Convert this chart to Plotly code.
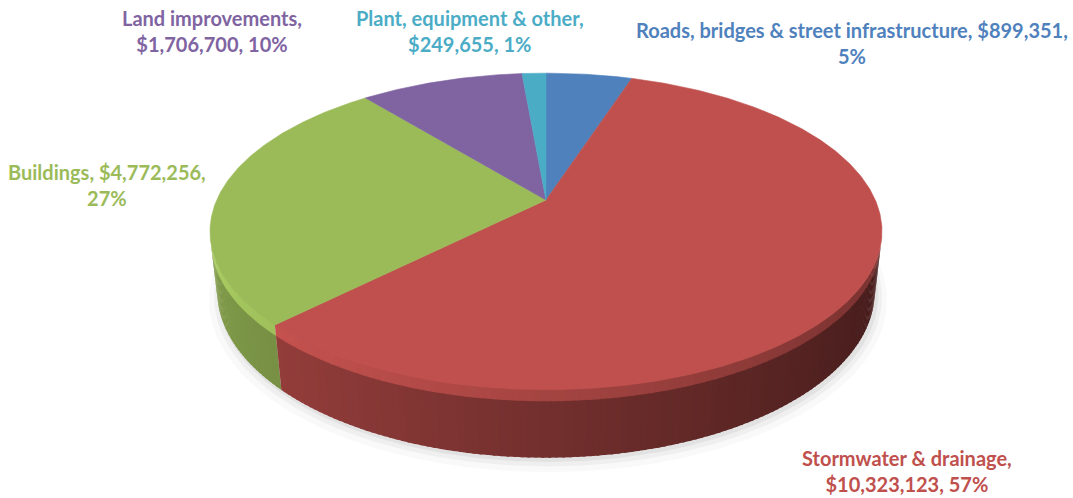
import numpy as np
import plotly.graph_objects as go

# ---------------- data ----------------
categories = ["Roads, bridges & street infrastructure", "Stormwater & drainage",
              "Buildings", "Land improvements", "Plant, equipment & other"]
values = [899351, 10323123, 4772256, 1706700, 249655]
percents = [5, 57, 27, 10, 1]
colors = ["#4F81BD", "#C0504D", "#9BBB59", "#8064A2", "#4BACC6"]

# label layout (pixel centres of the two-line label blocks) and where the line wraps
label_pos = {
    "Roads, bridges & street infrastructure": (852, 43),
    "Stormwater & drainage": (907, 471),
    "Buildings": (107, 185),
    "Land improvements": (212, 31),
    "Plant, equipment & other": (470, 31),
}
break_after_name = {
    "Roads, bridges & street infrastructure": False,
    "Stormwater & drainage": True,
    "Buildings": False,
    "Land improvements": True,
    "Plant, equipment & other": True,
}

# ---------------- 3D projection ----------------
W, Hpx = 1073, 498
CX, CY = 546, 200
PHI = np.radians(27.5)
R = 1.0
D = R / 0.224
F = 329.3 * D / R
DEPTH = 0.205


def project(t, z, rad=R):
    x = rad * np.cos(t)
    y = rad * np.sin(t)
    v = y * np.sin(PHI) + z * np.cos(PHI)
    w = D + y * np.cos(PHI) - z * np.sin(PHI)
    return CX + F * x / w, CY - F * v / w


def hex_rgb(h):
    h = h.lstrip("#")
    return [int(h[i:i + 2], 16) for i in (0, 2, 4)]


def shade(h, f):
    r, g, b = hex_rgb(h)
    return "rgb(%d,%d,%d)" % tuple(int(max(0, min(255, c * f))) for c in (r, g, b))


total = float(sum(values))
cum = np.concatenate([[0.0], np.cumsum(values)]) / total
bounds = np.pi / 2 - 2 * np.pi * cum  # clockwise from 12 o'clock

fig = go.Figure()

# soft shadow under the pie (only below/right, subtle)
tt = np.linspace(-np.pi, 0, 181)
for rad, alpha, off in [(1.03, 0.025, 7), (1.015, 0.04, 5), (1.005, 0.05, 3)]:
    sx, sy = project(tt, -DEPTH, rad)
    fig.add_trace(go.Scatter(x=sx + 2, y=sy + off, mode="lines", fill="toself",
                             fillcolor="rgba(0,0,0,%.3f)" % alpha,
                             line=dict(width=0), hoverinfo="skip"))

# side walls (front-facing), sorted far to near
limit = -R / (D * np.cos(PHI))
segs = []
step = np.radians(1.0)
for i, c in enumerate(colors):
    t0, t1 = bounds[i], bounds[i + 1]
    n = max(1, int(np.ceil(abs(t1 - t0) / step)))
    ts = np.linspace(t0, t1, n + 1)
    for k, (a, b) in enumerate(zip(ts[:-1], ts[1:])):
        m = 0.5 * (a + b)
        if np.sin(m) < limit + 0.02:
            depth = D + R * np.sin(m) * np.cos(PHI)
            # small overlap with the neighbour inside the same slice to hide seams
            b_ext = b - np.radians(0.4) if k < n - 1 else b
            segs.append((depth, a, b_ext, m, c))
segs.sort(key=lambda s: -s[0])

rim = 0.03
for depth, a, b, m, c in segs:
    tseg = np.linspace(a, b, 3)
    # main wall
    xt, yt = project(tseg, -rim)
    xb, yb = project(tseg[::-1], -DEPTH)
    f = 0.6 - 0.24 * np.cos(m)
    col = shade(c, f)
    fig.add_trace(go.Scatter(x=np.concatenate([xt, xb]), y=np.concatenate([yt, yb]),
                             mode="lines", fill="toself", fillcolor=col,
                             line=dict(width=0), hoverinfo="skip"))
    # softly highlighted rim
    xt, yt = project(tseg, 0.002)
    xb, yb = project(tseg[::-1], -rim - 0.004)
    f2 = 0.86 - 0.24 * np.cos(m)
    col2 = shade(c, f2)
    fig.add_trace(go.Scatter(x=np.concatenate([xt, xb]), y=np.concatenate([yt, yb]),
                             mode="lines", fill="toself", fillcolor=col2,
                             line=dict(width=0), hoverinfo="skip"))

# top faces
for i, c in enumerate(colors):
    t0, t1 = bounds[i], bounds[i + 1]
    n = max(4, int(np.ceil(abs(t1 - t0) / np.radians(0.5))))
    ts = np.linspace(t0, t1, n + 1)
    ax, ay = project(ts, 0)
    x = np.concatenate([[CX], ax, [CX]])
    y = np.concatenate([[CY], ay, [CY]])
    fig.add_trace(go.Scatter(x=x, y=y, mode="lines", fill="toself", fillcolor=c,
                             line=dict(color=c, width=0.6), hoverinfo="skip"))

# data labels
for cat, val, pct, c in zip(categories, values, percents, colors):
    lx, ly = label_pos[cat]
    if break_after_name[cat]:
        txt = "%s,<br>$%s, %d%%" % (cat, f"{val:,}", pct)
    else:
        txt = "%s, $%s,<br>%d%%" % (cat, f"{val:,}", pct)
    fig.add_annotation(x=lx, y=ly, xref="x", yref="y", text=txt, showarrow=False,
                       align="center", xanchor="center", yanchor="middle",
                       font=dict(family="Lato", size=20, color=c, weight="bold"))

fig.update_layout(
    width=W, height=Hpx, margin=dict(l=0, r=0, t=0, b=0),
    paper_bgcolor="white", plot_bgcolor="white", showlegend=False,
    xaxis=dict(range=[0, W], visible=False, fixedrange=True),
    yaxis=dict(range=[Hpx, 0], visible=False, fixedrange=True),
)
fig.write_html("out.html")
